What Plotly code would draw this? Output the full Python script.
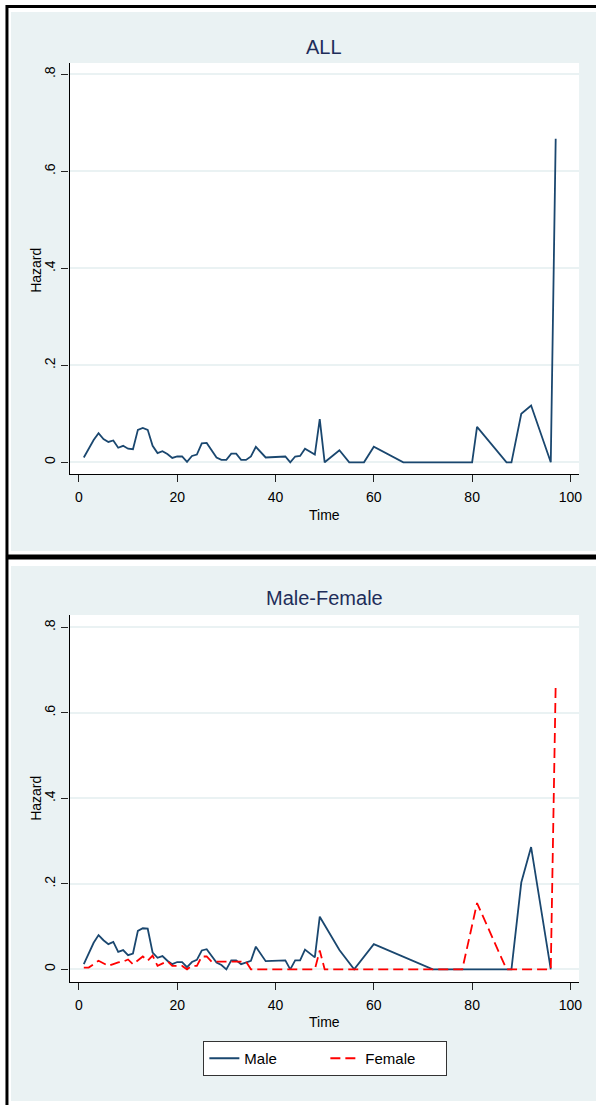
import plotly.graph_objects as go

# ---- data ----
all_time = [1, 3, 4, 5, 6, 7, 8, 9, 10, 11, 12, 13, 14, 15, 16, 17, 18, 19, 20, 21, 22, 23, 24,
            25, 26, 27, 28, 29, 30, 31, 32, 33, 34, 35, 36, 38, 42, 43, 44, 45, 46, 48, 49, 50,
            53, 55, 58, 60, 66, 80, 81, 87, 88, 90, 92, 96, 97]
all_hazard = [0.010, 0.046, 0.060, 0.048, 0.042, 0.045, 0.030, 0.034, 0.028, 0.027, 0.067, 0.071,
              0.067, 0.034, 0.019, 0.023, 0.017, 0.009, 0.012, 0.012, 0.001, 0.013, 0.016, 0.039,
              0.040, 0.025, 0.010, 0.005, 0.005, 0.018, 0.018, 0.005, 0.005, 0.012, 0.032, 0.010,
              0.012, 0.000, 0.012, 0.013, 0.028, 0.016, 0.089, 0.000, 0.025, 0.000, 0.000, 0.032,
              0.000, 0.000, 0.073, 0.000, 0.000, 0.100, 0.117, 0.000, 0.667]

male_time = [1, 3, 4, 5, 6, 7, 8, 9, 10, 11, 12, 13, 14, 15, 16, 17, 18, 19, 20, 21, 22, 23, 24,
             25, 26, 27, 28, 29, 30, 31, 32, 33, 34, 35, 36, 38, 42, 43, 44, 45, 46, 48, 49, 53,
             56, 60, 72, 80, 81, 87, 88, 90, 92, 96]
male_hazard = [0.012, 0.062, 0.080, 0.068, 0.059, 0.064, 0.041, 0.045, 0.033, 0.037, 0.090, 0.096,
               0.095, 0.039, 0.027, 0.031, 0.020, 0.012, 0.017, 0.017, 0.005, 0.017, 0.022, 0.044,
               0.047, 0.030, 0.016, 0.010, 0.000, 0.021, 0.021, 0.012, 0.016, 0.020, 0.053, 0.019,
               0.021, 0.000, 0.021, 0.021, 0.046, 0.028, 0.123, 0.045, 0.000, 0.059, 0.000, 0.000,
               0.000, 0.000, 0.000, 0.203, 0.286, 0.000]

female_time = [1, 2, 4, 6, 7, 8, 9, 10, 11, 12, 13, 14, 15, 16, 17, 18, 19, 20, 21, 22, 23, 24,
               25, 26, 27, 28, 29, 30, 31, 32, 33, 34, 35, 36, 38, 42, 43, 44, 45, 46, 48, 49, 50,
               53, 55, 58, 60, 66, 72, 78, 81, 87, 88, 90, 92, 96, 97]
female_hazard = [0.004, 0.004, 0.020, 0.008, 0.012, 0.016, 0.018, 0.023, 0.012, 0.022, 0.030,
                 0.020, 0.032, 0.008, 0.013, 0.019, 0.008, 0.008, 0.008, 0.000, 0.008, 0.008,
                 0.030, 0.030, 0.018, 0.018, 0.018, 0.018, 0.018, 0.018, 0.018, 0.018, 0.000,
                 0.000, 0.000, 0.000, 0.000, 0.000, 0.000, 0.000, 0.000, 0.044, 0.000, 0.000,
                 0.000, 0.000, 0.000, 0.000, 0.000, 0.000, 0.155, 0.000, 0.000, 0.000, 0.000,
                 0.000, 0.667]

x_ticks = [0, 20, 40, 60, 80, 100]
y_ticks = [0, 0.2, 0.4, 0.6, 0.8]
y_tick_text = ["0", ".2", ".4", ".6", ".8"]

# ---- layout helpers ----
W, H = 599, 1105
def px(x):
    return x / W
def py(y):
    return 1 - y / H

NAVY = "#1A476F"
BG = "#EAF2F3"
FONT = "Liberation Sans, Arial, sans-serif"

fig = go.Figure()
fig.add_trace(go.Scatter(x=all_time, y=all_hazard, mode="lines", xaxis="x", yaxis="y",
                         line=dict(color=NAVY, width=1.8), showlegend=False))
fig.add_trace(go.Scatter(x=male_time, y=male_hazard, mode="lines", xaxis="x2", yaxis="y2",
                         name="Male", line=dict(color=NAVY, width=1.8)))
fig.add_trace(go.Scatter(x=female_time, y=female_hazard, mode="lines", xaxis="x2", yaxis="y2",
                         name="Female", line=dict(color="#FF0000", width=1.8, dash="10px,5px")))

xdom = [px(70), px(582)]
xrange = [-1.88, 101.76]

def xaxis_cfg(anchor):
    return dict(domain=xdom, range=xrange, anchor=anchor, tickvals=x_ticks,
                ticks="outside", ticklen=7, tickwidth=1.2, tickcolor="#222",
                showline=True, linecolor="black", linewidth=1.3, showgrid=False,
                zeroline=False, ticklabelstandoff=3,
                tickfont=dict(family=FONT, size=14, color="black"))

def yaxis_cfg(anchor, dom, rng):
    return dict(domain=dom, range=rng, anchor=anchor, tickvals=y_ticks, ticktext=y_tick_text,
                ticks="outside", ticklen=7, tickwidth=1.2, tickcolor="#222", tickangle=-90,
                showline=True, linecolor="black", linewidth=1.3, showgrid=True,
                gridcolor=BG, gridwidth=1.6, zeroline=False, ticklabelstandoff=1,
                tickfont=dict(family=FONT, size=14, color="black"))

def label(text, x, y, angle=0):
    return dict(text=text, xref="paper", yref="paper", x=px(x), y=py(y), showarrow=False,
                xanchor="center", yanchor="middle", textangle=angle,
                font=dict(family=FONT, size=14, color="black"))

title_font = dict(family="Liberation Sans Narrow, Liberation Sans, Arial", size=20, color="#1E2D5A")

fig.update_layout(
    width=W, height=H, autosize=False,
    margin=dict(l=0, r=0, t=0, b=0),
    paper_bgcolor="white", plot_bgcolor="white",
    font=dict(family=FONT, color="black"),
    xaxis=xaxis_cfg("y"),
    yaxis=yaxis_cfg("x", [py(474), py(63)], [-0.0241, 0.8234]),
    xaxis2=xaxis_cfg("y2"),
    yaxis2=yaxis_cfg("x2", [py(982), py(615)], [-0.0297, 0.8289]),
    legend=dict(orientation="h", x=px(327), xanchor="center", y=py(1041), yanchor="top",
                bgcolor="white", bordercolor="#333", borderwidth=1, entrywidth=76,
                tracegroupgap=0,
                font=dict(family=FONT, size=15, color="black")),
    shapes=[
        dict(type="rect", xref="paper", yref="paper", x0=px(11), x1=px(599), y0=py(551), y1=py(12),
             fillcolor=BG, line=dict(width=0), layer="below"),
        dict(type="rect", xref="paper", yref="paper", x0=px(11), x1=px(599), y0=py(1101), y1=py(566),
             fillcolor=BG, line=dict(width=0), layer="below"),
        dict(type="rect", xref="paper", yref="paper", x0=px(70), x1=px(582), y0=py(474), y1=py(63),
             fillcolor="white", line=dict(width=0), layer="below"),
        dict(type="rect", xref="paper", yref="paper", x0=px(70), x1=px(582), y0=py(982), y1=py(615),
             fillcolor="white", line=dict(width=0), layer="below"),
        dict(type="line", xref="paper", yref="paper", x0=px(7), x1=px(7), y0=py(5), y1=py(1105),
             line=dict(color="black", width=3)),
        dict(type="line", xref="paper", yref="paper", x0=px(6), x1=px(599), y0=py(6.5), y1=py(6.5),
             line=dict(color="black", width=3)),
        dict(type="line", xref="paper", yref="paper", x0=px(6), x1=px(599), y0=py(557), y1=py(557),
             line=dict(color="black", width=5)),
    ],
    annotations=[
        dict(text="ALL", xref="paper", yref="paper", x=px(326), y=py(47), showarrow=False,
             xanchor="center", yanchor="middle", font=title_font),
        dict(text="Male-Female", xref="paper", yref="paper", x=px(326), y=py(598), showarrow=False,
             xanchor="center", yanchor="middle", font=title_font),
        label("Hazard", 36, 270, -90),
        label("Time", 326, 515),
        label("Hazard", 36, 798, -90),
        label("Time", 326, 1022),
    ],
)

fig.write_html("out.html", config={"displayModeBar": False},
               post_script="document.body.style.margin='0';")
